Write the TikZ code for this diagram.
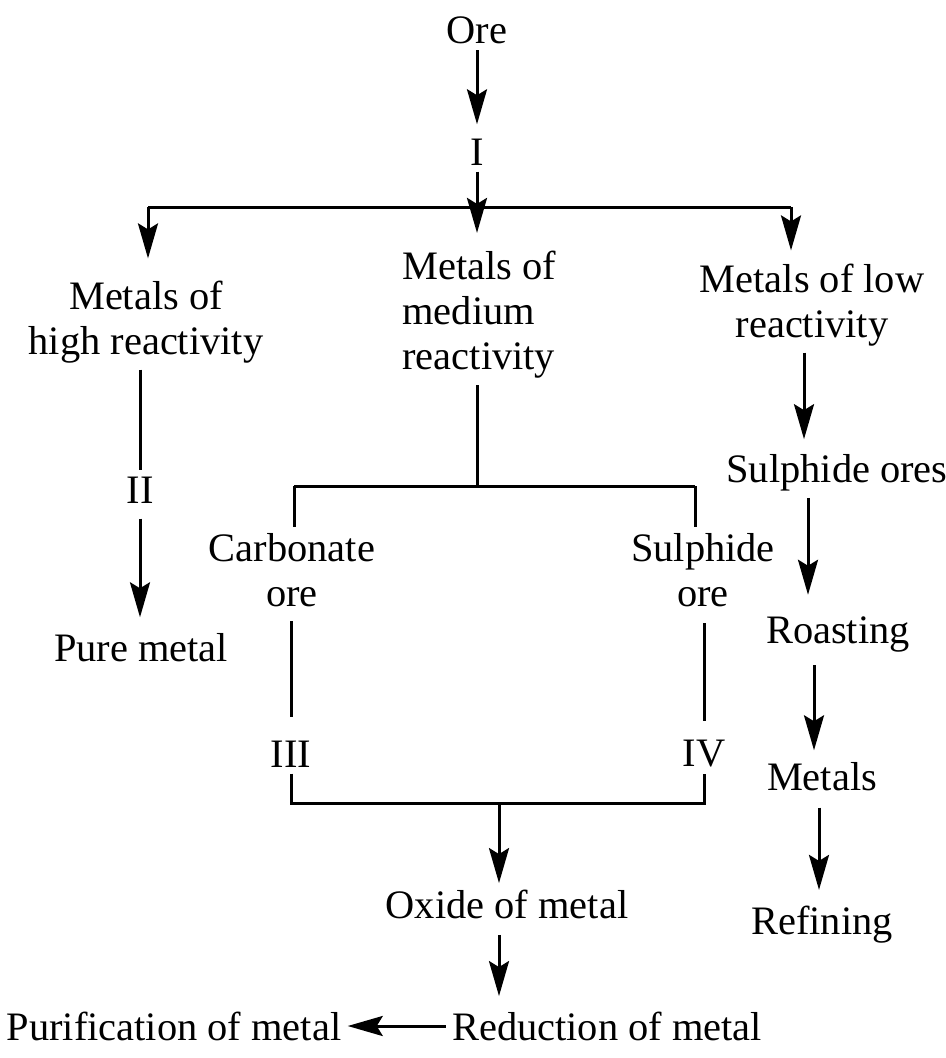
\documentclass[tikz,border=0pt]{standalone}
\usepackage{fontspec}
\setmainfont{Liberation Serif}
\usetikzlibrary{arrows.meta}

\begin{document}
\begin{tikzpicture}[stage/.style={inner sep=0.1cm},
                    arr/.style={-{Stealth[length=0.7cm, width=0.4cm, inset=0.12cm]}},
                    line width=0.06cm,
                    font=\fontsize{23pt}{25.6pt}\selectfont]
  \useasboundingbox (0, 0) rectangle (18.9, -21.16);

  % Stages.
  \node at (9.54, -0.60) [stage, name=Ore] {Ore};
  \node at (9.54, -3.04) [stage, name=I] {I};
  \node at (2.92, -6.44) [stage, align=center, name=HighReactivity] {Metals of\\high reactivity};
  \node at (7.92, -6.30) [stage, align=left, anchor=west, name=MediumReactivity] {Metals of\\medium\\reactivity};
  \node at (16.24, -6.10) [stage, align=center, name=LowReactivity] {Metals of low\\reactivity};
  \node at (2.80, -9.80) [stage, name=II] {II};
  \node at (2.82, -12.96) [stage, name=PureMetal] {Pure metal};
  \node at (5.84, -11.40) [stage, align=center, name=CarbonateOre] {Carbonate\\ore};
  \node at (14.06, -11.40) [stage, align=center, name=SulphideOre] {Sulphide\\ore};
  \node at (5.82, -15.08) [stage, name=III] {III};
  \node at (14.08, -15.08) [stage, name=IV] {IV};
  \node at (10.14, -18.08) [stage, name=OxideOfMetal] {Oxide of metal};
  \node at (12.14, -20.52) [stage, name=ReductionOfMetal] {Reduction of metal};
  \node at (3.48, -20.52) [stage, name=PurificationOfMetal] {Purification of metal};
  \node at (16.74, -9.46) [stage, name=SulphideOres] {Sulphide ores};
  \node at (16.76, -12.68) [stage, name=Roasting] {Roasting};
  \node at (16.44, -15.54) [stage, name=Metals] {Metals};
  \node at (16.44, -18.50) [stage, name=Refining] {Refining};

  % Branch points.
  \coordinate (branch) at (9.54, -4.14);
  \coordinate (branchHigh) at (2.96, -4.14);
  \coordinate (branchLow) at (15.82, -4.14);
  \coordinate (mediumsplit) at (9.54, -9.72);
  \coordinate (carbonate) at (5.88, -9.72);
  \coordinate (sulphide) at (13.90, -9.72);
  \coordinate (oxide) at (9.98, -16.06);

  % Sorting by reactivity.
  \draw [arr, shorten >=0.16cm] (Ore) to (I);
  \draw (I) to (branch);
  \draw (branchHigh) to (branchLow);
  \draw [arr, shorten >=0.32cm] (branchHigh) to (branchHigh |- HighReactivity.north);
  \draw [arr, shorten >=0.24cm] (branch) to (branch |- MediumReactivity.north);
  \draw [arr, shorten >=0.14cm] (branchLow) to (branchLow |- LowReactivity.north);

  % High reactivity.
  \draw (II |- HighReactivity.south) to (II);
  \draw [arr, shorten <=0.18cm, shorten >=0.2cm] (II) to (II |- PureMetal.north);

  % Medium reactivity.
  \draw (mediumsplit |- MediumReactivity.south) to (mediumsplit);
  \draw (carbonate) to (sulphide);
  \draw (carbonate) to (carbonate |- CarbonateOre.north);
  \draw (sulphide) to (sulphide |- SulphideOre.north);
  \draw [shorten <=0.16cm, shorten >=0.34cm] (III |- CarbonateOre.south) to (III);
  \draw [shorten <=0.2cm, shorten >=0.26cm] (IV |- SulphideOre.south) to (IV);
  \draw (III) to (III |- oxide) to (IV |- oxide) to (IV);
  \draw [arr] (oxide) to (oxide |- OxideOfMetal.north);
  \draw [arr, shorten <=0.2cm, shorten >=0.18cm] (OxideOfMetal.south -| oxide)
             to (ReductionOfMetal.north -| oxide);
  \draw [arr] (ReductionOfMetal) to (PurificationOfMetal);

  % Low reactivity.
  \draw [arr, shorten >=0.18cm] ([xshift=-0.16cm]LowReactivity.south)
             to ([xshift=-0.16cm]LowReactivity.south |- SulphideOres.north);
  \draw [arr, shorten >=0.3cm] ([xshift=-0.58cm]SulphideOres.south)
             to ([xshift=-0.58cm]SulphideOres.south |- Roasting.north);
  \draw [arr, shorten <=0.14cm, shorten >=0.12cm] ([xshift=-0.48cm]Roasting.south)
             to ([xshift=-0.48cm]Roasting.south |- Metals.north);
  \draw [arr, shorten <=0.2cm, shorten >=0.2cm] ([xshift=-0.06cm]Metals.south)
             to ([xshift=-0.06cm]Metals.south |- Refining.north);
\end{tikzpicture}
\end{document}
